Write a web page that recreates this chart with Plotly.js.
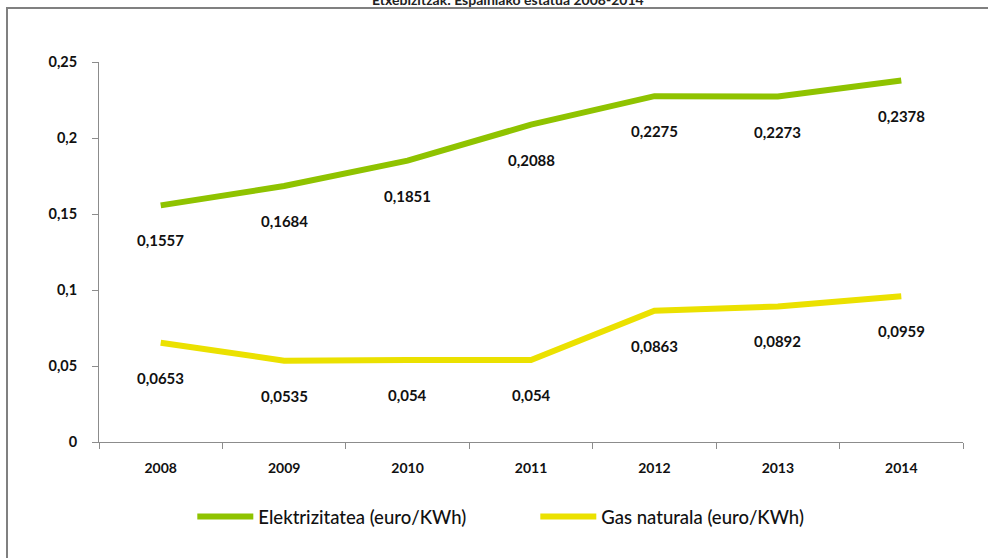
<!DOCTYPE html>
<html>
<head>
<meta charset="utf-8">
<script src="https://cdn.plot.ly/plotly-3.0.1.min.js"></script>
<style>html,body{margin:0;padding:0;background:#fff;}#chart{width:988px;height:558px;}</style>
</head>
<body>
<div id="chart"></div>
<script>
var years = ["2008", "2009", "2010", "2011", "2012", "2013", "2014"];
var elektrizitatea = [0.1557, 0.1684, 0.1851, 0.2088, 0.2275, 0.2273, 0.2378];
var gasNaturala = [0.0653, 0.0535, 0.054, 0.054, 0.0863, 0.0892, 0.0959];
var seriesNames = ["Elektrizitatea (euro/KWh)", "Gas naturala (euro/KWh)"];
var titleText = "Etxebizitzak: Espainiako estatua 2008-2014";

var green = "#8fc300";
var yellow = "#ebe100";
var labelFont = {family: "Lato, 'Open Sans', sans-serif", size: 15, color: "#111", weight: 700};

function fmt(v) { return String(v).replace(".", ","); }

var annotations = [];
[elektrizitatea, gasNaturala].forEach(function (arr) {
  arr.forEach(function (v, i) {
    annotations.push({
      x: i, y: v, xref: "x", yref: "y",
      text: fmt(v), showarrow: false, yshift: -35,
      font: labelFont
    });
  });
});
annotations.push({
  xref: "paper", yref: "paper", x: 0.473, y: 1, yanchor: "bottom", yshift: 52,
  text: titleText, showarrow: false,
  font: {family: "Lato, 'Open Sans', sans-serif", size: 14, color: "#222", weight: 700}
});

var traces = [
  {x: years, y: elektrizitatea, name: seriesNames[0], type: "scatter", mode: "lines",
   line: {color: green, width: 6}},
  {x: years, y: gasNaturala, name: seriesNames[1], type: "scatter", mode: "lines",
   line: {color: yellow, width: 6}}
];

var layout = {
  width: 988, height: 558,
  margin: {l: 99, r: 25, t: 62, b: 116},
  paper_bgcolor: "#fff", plot_bgcolor: "#fff",
  separators: ",.",
  showlegend: true,
  xaxis: {
    type: "category",
    range: [-0.5, 6.5],
    showline: true, linecolor: "#8c8c8c", linewidth: 1,
    ticks: "outside", tickson: "boundaries", ticklen: 6, tickcolor: "#8c8c8c",
    showgrid: false, zeroline: false,
    ticklabelstandoff: 13,
    tickfont: {family: "Lato, 'Open Sans', sans-serif", size: 14, color: "#111", weight: 700}
  },
  yaxis: {
    range: [0, 0.25], dtick: 0.05, tick0: 0,
    showline: true, linecolor: "#8c8c8c", linewidth: 1,
    ticks: "outside", ticklen: 6, tickcolor: "#8c8c8c",
    showgrid: false, zeroline: false,
    ticklabelstandoff: 12,
    tickfont: {family: "Lato, 'Open Sans', sans-serif", size: 14.5, color: "#111", weight: 700}
  },
  legend: {
    orientation: "h", x: 0.108, xanchor: "left", y: -0.197, yanchor: "middle",
    itemwidth: 56,
    entrywidth: 272, entrywidthmode: "pixels",
    font: {family: "Lato, 'Open Sans', sans-serif", size: 18.5, color: "#111", weight: 500},
    bgcolor: "rgba(0,0,0,0)"
  },
  annotations: annotations,
  shapes: [{
    type: "rect", xref: "paper", yref: "paper",
    x0: (7 - 99) / 864, x1: 1.2, y0: -0.6, y1: (442 - 8) / 380,
    line: {color: "#808080", width: 2}, fillcolor: "rgba(0,0,0,0)", layer: "below"
  }]
};

Plotly.newPlot("chart", traces, layout, {displayModeBar: false, staticPlot: true});
</script>
</body>
</html>
